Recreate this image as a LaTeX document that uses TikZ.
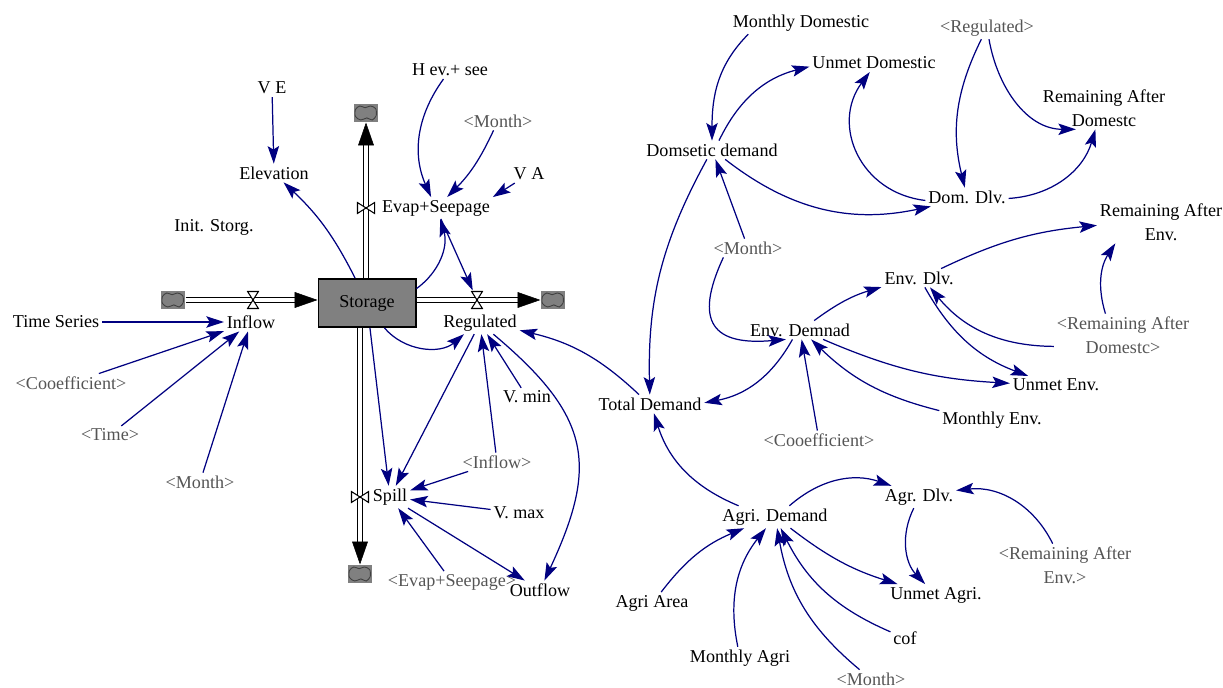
\documentclass[tikz,border=0pt]{standalone}
\usepackage{fontspec}
\setmainfont{Liberation Serif}
\usetikzlibrary{arrows.meta, positioning}

\definecolor{linkblue}{RGB}{0,0,128}
\definecolor{shadowgray}{RGB}{85,85,85}
\definecolor{stockgray}{RGB}{128,128,128}

\tikzset{
    var/.style = {inner sep=1.5pt, align=center,
        font=\fontsize{10.3}{13.5}\selectfont},
    shadowvar/.style = {var, text=shadowgray},
    stock/.style = {draw, line width=0.85pt, fill=stockgray,
        minimum width=55.5pt, minimum height=27.5pt, inner sep=0pt,
        font=\fontsize{10.3}{13.5}\selectfont},
    cloudbox/.style = {fill=stockgray, minimum width=14pt,
        minimum height=10.5pt, inner sep=0pt,
        path picture={
            \draw[-, black!75, line width=0.5pt, fill=stockgray,
                shift={(path picture bounding box.center)}, x=1pt, y=1pt]
                plot[smooth cycle] coordinates {(-6,-2) (-6,2) (-3.5,4)
                (-0.5,3) (2.5,4) (5.5,2.5) (5.8,-1.5) (3.5,-4) (0.5,-2.8)
                (-3,-4)};
        }},
    valveh/.style = {minimum width=7pt, minimum height=10.5pt, inner sep=0pt,
        path picture={
            \draw[-, fill=white, line width=0.6pt]
                ([shift={(0.4pt,-0.4pt)}]path picture bounding box.north west)
                -- ([shift={(-0.4pt,-0.4pt)}]path picture bounding box.north east)
                -- ([shift={(0.4pt,0.4pt)}]path picture bounding box.south west)
                -- ([shift={(-0.4pt,0.4pt)}]path picture bounding box.south east)
                -- cycle;
        }},
    valvev/.style = {minimum width=10.5pt, minimum height=7pt, inner sep=0pt,
        path picture={
            \draw[-, fill=white, line width=0.6pt]
                ([shift={(0.4pt,-0.4pt)}]path picture bounding box.north west)
                -- ([shift={(-0.4pt,0.4pt)}]path picture bounding box.south east)
                -- ([shift={(-0.4pt,-0.4pt)}]path picture bounding box.north east)
                -- ([shift={(0.4pt,0.4pt)}]path picture bounding box.south west)
                -- cycle;
        }},
    pipe/.style = {-, line width=0.7pt, double=white, double distance=2pt,
        shorten >=11pt},
    pipetip/.style = {draw=white, line width=0.3pt,
        -{Triangle[length=13pt, width=9pt, color=black]}},
}

\begin{document}
\begin{tikzpicture}[
        x = 0.02cm,
        y = 0.02cm,
        ->,
        > = {Stealth[length=10pt, width=6.5pt, inset=2pt]},
        every edge/.append style = {draw=linkblue, line width=0.7pt}
    ]
    \useasboundingbox (0,-688) rectangle (1223,0);

    \node[stock] (storage) at (367,-303) {Storage};
    \node[cloudbox] (srcL) at (173,-300) {};
    \node[cloudbox] (sinkR) at (553,-300) {};
    \node[cloudbox] (sinkT) at (366,-113) {};
    \node[cloudbox] (sinkB) at (360,-574) {};

    \draw[pipe] (srcL.east) -- (srcL -| storage.west);
    \draw[pipetip] (srcL.east) -- (srcL -| storage.west);
    \draw[pipe] (storage.east |- sinkR) -- (sinkR.west);
    \draw[pipetip] (storage.east |- sinkR) -- (sinkR.west);
    \draw[pipe] (sinkT |- storage.north) -- (sinkT.south);
    \draw[pipetip] (sinkT |- storage.north) -- (sinkT.south);
    \draw[pipe] (sinkB |- storage.south) -- (sinkB.north);
    \draw[pipetip] (sinkB |- storage.south) -- (sinkB.north);

    \node[valveh] (vIn) at (253,-300) {};
    \node[valveh] (vReg) at (477,-300) {};
    \node[valvev] (vEvap) at (366,-208) {};
    \node[valvev] (vSpill) at (360,-497) {};

    \node[var] (ve) at (272,-88) {V E};
    \node[var] (elev) at (274,-173) {Elevation};
    \node[var] (init) at (214,-227) {Init. Storg.};
    \node[var] (hev) at (450,-70) {H ev.+ see};
    \node[shadowvar] (monthE) at (498,-121) {<Month>};
    \node[var] (va) at (529,-174) {V A};
    \node[var] (evap) at (436,-208) {Evap+Seepage};
    \node[var] (tseries) at (56,-322) {Time Series};
    \node[var] (inflow) at (251,-322) {Inflow};
    \node[shadowvar] (coefI) at (71,-383) {<Cooefficient>};
    \node[shadowvar] (timeI) at (110,-435) {<Time>};
    \node[shadowvar] (monthI) at (200,-482) {<Month>};
    \node[var] (reg) at (480,-323) {Regulated};
    \node[var] (vmin) at (527,-397) {V. min};
    \node[shadowvar] (inflowS) at (497,-462) {<Inflow>};
    \node[var] (spill) at (390,-497) {Spill};
    \node[var] (vmax) at (519,-513) {V. max};
    \node[shadowvar] (evapS) at (452,-582) {<Evap+Seepage>};
    \node[var] (outflow) at (540,-590) {Outflow};

    \node[var] (totdem) at (650,-404) {Total Demand};
    \node[var] (mdom) at (801,-23) {Monthly Domestic};
    \node[var] (unmetD) at (874,-63) {Unmet Domestic};
    \node[shadowvar] (regS) at (987,-28) {<Regulated>};
    \node[var] (remD) at (1104,-108) {Remaining After\\Domestc};
    \node[var] (domdem) at (712,-150) {Domsetic demand};
    \node[var] (domdlv) at (967,-197) {Dom. Dlv.};
    \node[var] (remE) at (1161,-222) {Remaining After\\Env.};
    \node[shadowvar] (monthD) at (748,-248) {<Month>};
    \node[var] (envdlv) at (919,-278) {Env. Dlv.};
    \node[var] (envdem) at (800,-330) {Env. Demnad};
    \node[shadowvar] (remDS) at (1123,-335) {<Remaining After\\Domestc>};
    \node[var] (unmetE) at (1056,-385) {Unmet Env.};
    \node[var] (menv) at (992,-420) {Monthly Env.};
    \node[shadowvar] (coefE) at (819,-440) {<Cooefficient>};
    \node[var] (agrdlv) at (919,-497) {Agr. Dlv.};
    \node[var] (agrdem) at (775,-517) {Agri. Demand};
    \node[shadowvar] (remES) at (1065,-565) {<Remaining After\\Env.>};
    \node[var] (area) at (652,-603) {Agri Area};
    \node[var] (unmetA) at (936,-595) {Unmet Agri.};
    \node[var] (cof) at (905,-638) {cof};
    \node[var] (magri) at (740,-658) {Monthly Agri};
    \node[shadowvar] (monthA) at (871,-679) {<Month>};

    \path (ve) edge (elev);
    \path (storage) edge[bend right=10] (elev);
    \path (hev) edge[bend right=30] (evap);
    \path (monthE) edge[bend left=10] (evap);
    \path (va) edge (evap.north east);
    \path ([yshift=-6pt]storage.north east) edge[bend right=35] (evap);
    \path (evap) edge (vReg);
    \path (storage) edge[bend right=45] (reg);
    \path (reg) edge (spill);
    \path (inflowS) edge (reg);
    \path (vmin) edge (reg);
    \path (reg) edge[out=-40, in=65, looseness=1.3] (outflow);
    \path (totdem) edge[bend right=15] (reg);
    \path (storage) edge (spill);
    \path (inflowS) edge (spill);
    \path (vmax) edge (spill);
    \path (evapS) edge (spill);
    \path (spill) edge (outflow);
    \path (tseries) edge (inflow);
    \path (coefI) edge (inflow);
    \path (timeI) edge (inflow);
    \path (monthI) edge (inflow);

    \path ([xshift=-30pt]mdom.south) edge[out=225, in=90] (domdem);
    \path (domdem) edge[bend left=25] (unmetD);
    \path (domdlv) edge[bend left=60, looseness=1.2] (unmetD);
    \path (domdem) edge[bend right=25] (domdlv);
    \path (regS) edge[bend right=20] (domdlv);
    \path (regS) edge[out=-80, in=180] ([xshift=-16pt]remD.south);
    \path (domdlv) edge[bend right=35] (remD);
    \path (domdem) edge[bend right=15] (totdem);
    \path (monthD) edge (domdem);
    \path ([xshift=-14pt]monthD.south) edge[out=-115, in=185, looseness=1.8] ([xshift=-8pt]envdem.south);
    \path (envdem) edge[bend left=10] (envdlv);
    \path (envdem) edge[bend left=25] (totdem);
    \path (coefE) edge (envdem);
    \path (menv) edge[bend left=15] (envdem);
    \path (envdem) edge[bend right=10] (unmetE);
    \path (envdlv) edge[bend right=20] (unmetE);
    \path (remDS) edge[bend left=25] (envdlv);
    \path (envdlv) edge[bend left=10] (remE);
    \path ([xshift=-10pt]remDS.north) edge[bend left=25] ([xshift=-26pt]remE.south);
    \path (agrdem) edge[bend left=25] (totdem);
    \path (agrdem) edge[bend left=30] (agrdlv);
    \path (remES) edge[bend right=35] (agrdlv);
    \path (agrdlv) edge[bend right=35] (unmetA);
    \path (agrdem) edge[bend right=10] (unmetA);
    \path (area) edge[bend left=15] (agrdem);
    \path (magri) edge[bend left=25] (agrdem);
    \path (monthA) edge[bend left=20] (agrdem);
    \path (cof) edge[bend left=20] (agrdem);
\end{tikzpicture}
\end{document}
